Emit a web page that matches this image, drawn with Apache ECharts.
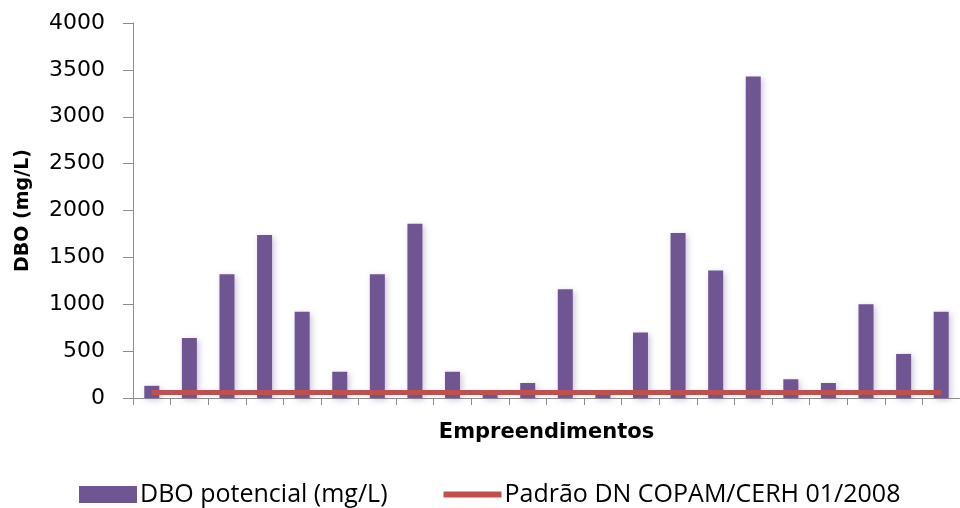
<!DOCTYPE html>
<html>
<head>
<meta charset="utf-8">
<script src="https://cdn.jsdelivr.net/npm/echarts@6/dist/echarts.min.js"></script>
<style>
  html, body { margin: 0; padding: 0; background: #fff; }
  #chart { width: 960px; height: 508px; }
</style>
</head>
<body>
<div id="chart"></div>
<script>
// Empreendimentos (unlabelled on the axis)
const empreendimentos = ['E1','E2','E3','E4','E5','E6','E7','E8','E9','E10','E11',
                         'E12','E13','E14','E15','E16','E17','E18','E19','E20','E21','E22'];
// DBO potencial (mg/L) per empreendimento
const dboPotencial = [130, 640, 1320, 1740, 920, 280, 1320, 1860, 280, 75, 160,
                      1160, 75, 700, 1760, 1360, 3430, 200, 160, 1000, 470, 920];
// Discharge standard DN COPAM/CERH 01/2008 (mg/L)
const padraoDN = 60;
const padraoSerie = empreendimentos.map(() => padraoDN);
// Y axis range
const yMin = 0, yMax = 4000, yStep = 500;

const chart = echarts.init(document.getElementById('chart'), null, { renderer: 'canvas' });

chart.setOption({
  animation: false,
  backgroundColor: '#ffffff',
  grid: { left: 133, right: -8, top: 23, bottom: 110, containLabel: false },
  legend: {
    top: 477,
    left: 74,
    itemWidth: 58,
    itemHeight: 17,
    itemGap: 56,
    symbolKeepAspect: true,
    textStyle: { fontFamily: 'Open Sans', fontSize: 25, color: '#000', padding: [0, 0, 0, -2] },
    data: [
      { name: 'DBO potencial (mg/L)', icon: 'rect' },
      { name: 'Padrão DN COPAM/CERH 01/2008', icon: 'path://M0,0H58V6H0Z' }
    ]
  },
  xAxis: {
    type: 'category',
    data: empreendimentos,
    name: 'Empreendimentos',
    nameLocation: 'middle',
    nameGap: 24,
    nameTextStyle: { fontFamily: 'DejaVu Sans', fontWeight: 'bold', fontSize: 21, color: '#000' },
    axisLine: { lineStyle: { color: '#8c8c8c', width: 1 } },
    axisTick: { show: true, length: 7, lineStyle: { color: '#8c8c8c' } },
    axisLabel: { show: false },
    splitLine: { show: false }
  },
  yAxis: {
    type: 'value',
    min: yMin,
    max: yMax,
    interval: yStep,
    name: 'DBO (mg/L)',
    nameLocation: 'middle',
    nameGap: 100,
    nameRotate: 90,
    nameTextStyle: { fontFamily: 'DejaVu Sans', fontWeight: 'bold', fontSize: 19, color: '#000' },
    axisLine: { show: true, lineStyle: { color: '#8c8c8c', width: 1 } },
    axisTick: { show: true, length: 10, lineStyle: { color: '#8c8c8c' } },
    axisLabel: {
      fontFamily: 'DejaVu Sans', fontSize: 22, color: '#000', margin: 28,
      formatter: v => String(v)
    },
    splitLine: { show: false }
  },
  series: [
    {
      name: 'DBO potencial (mg/L)',
      type: 'bar',
      data: dboPotencial,
      barWidth: 15,
      itemStyle: {
        color: '#6f5592',
        shadowColor: 'rgba(111, 85, 146, 0.35)',
        shadowBlur: 6,
        shadowOffsetX: 2,
        shadowOffsetY: 2
      }
    },
    {
      name: 'Padrão DN COPAM/CERH 01/2008',
      type: 'line',
      data: padraoSerie,
      symbol: 'none',
      z: 5,
      lineStyle: { color: '#c0504d', width: 5 },
      itemStyle: { color: '#c0504d' }
    }
  ]
});
</script>
</body>
</html>
